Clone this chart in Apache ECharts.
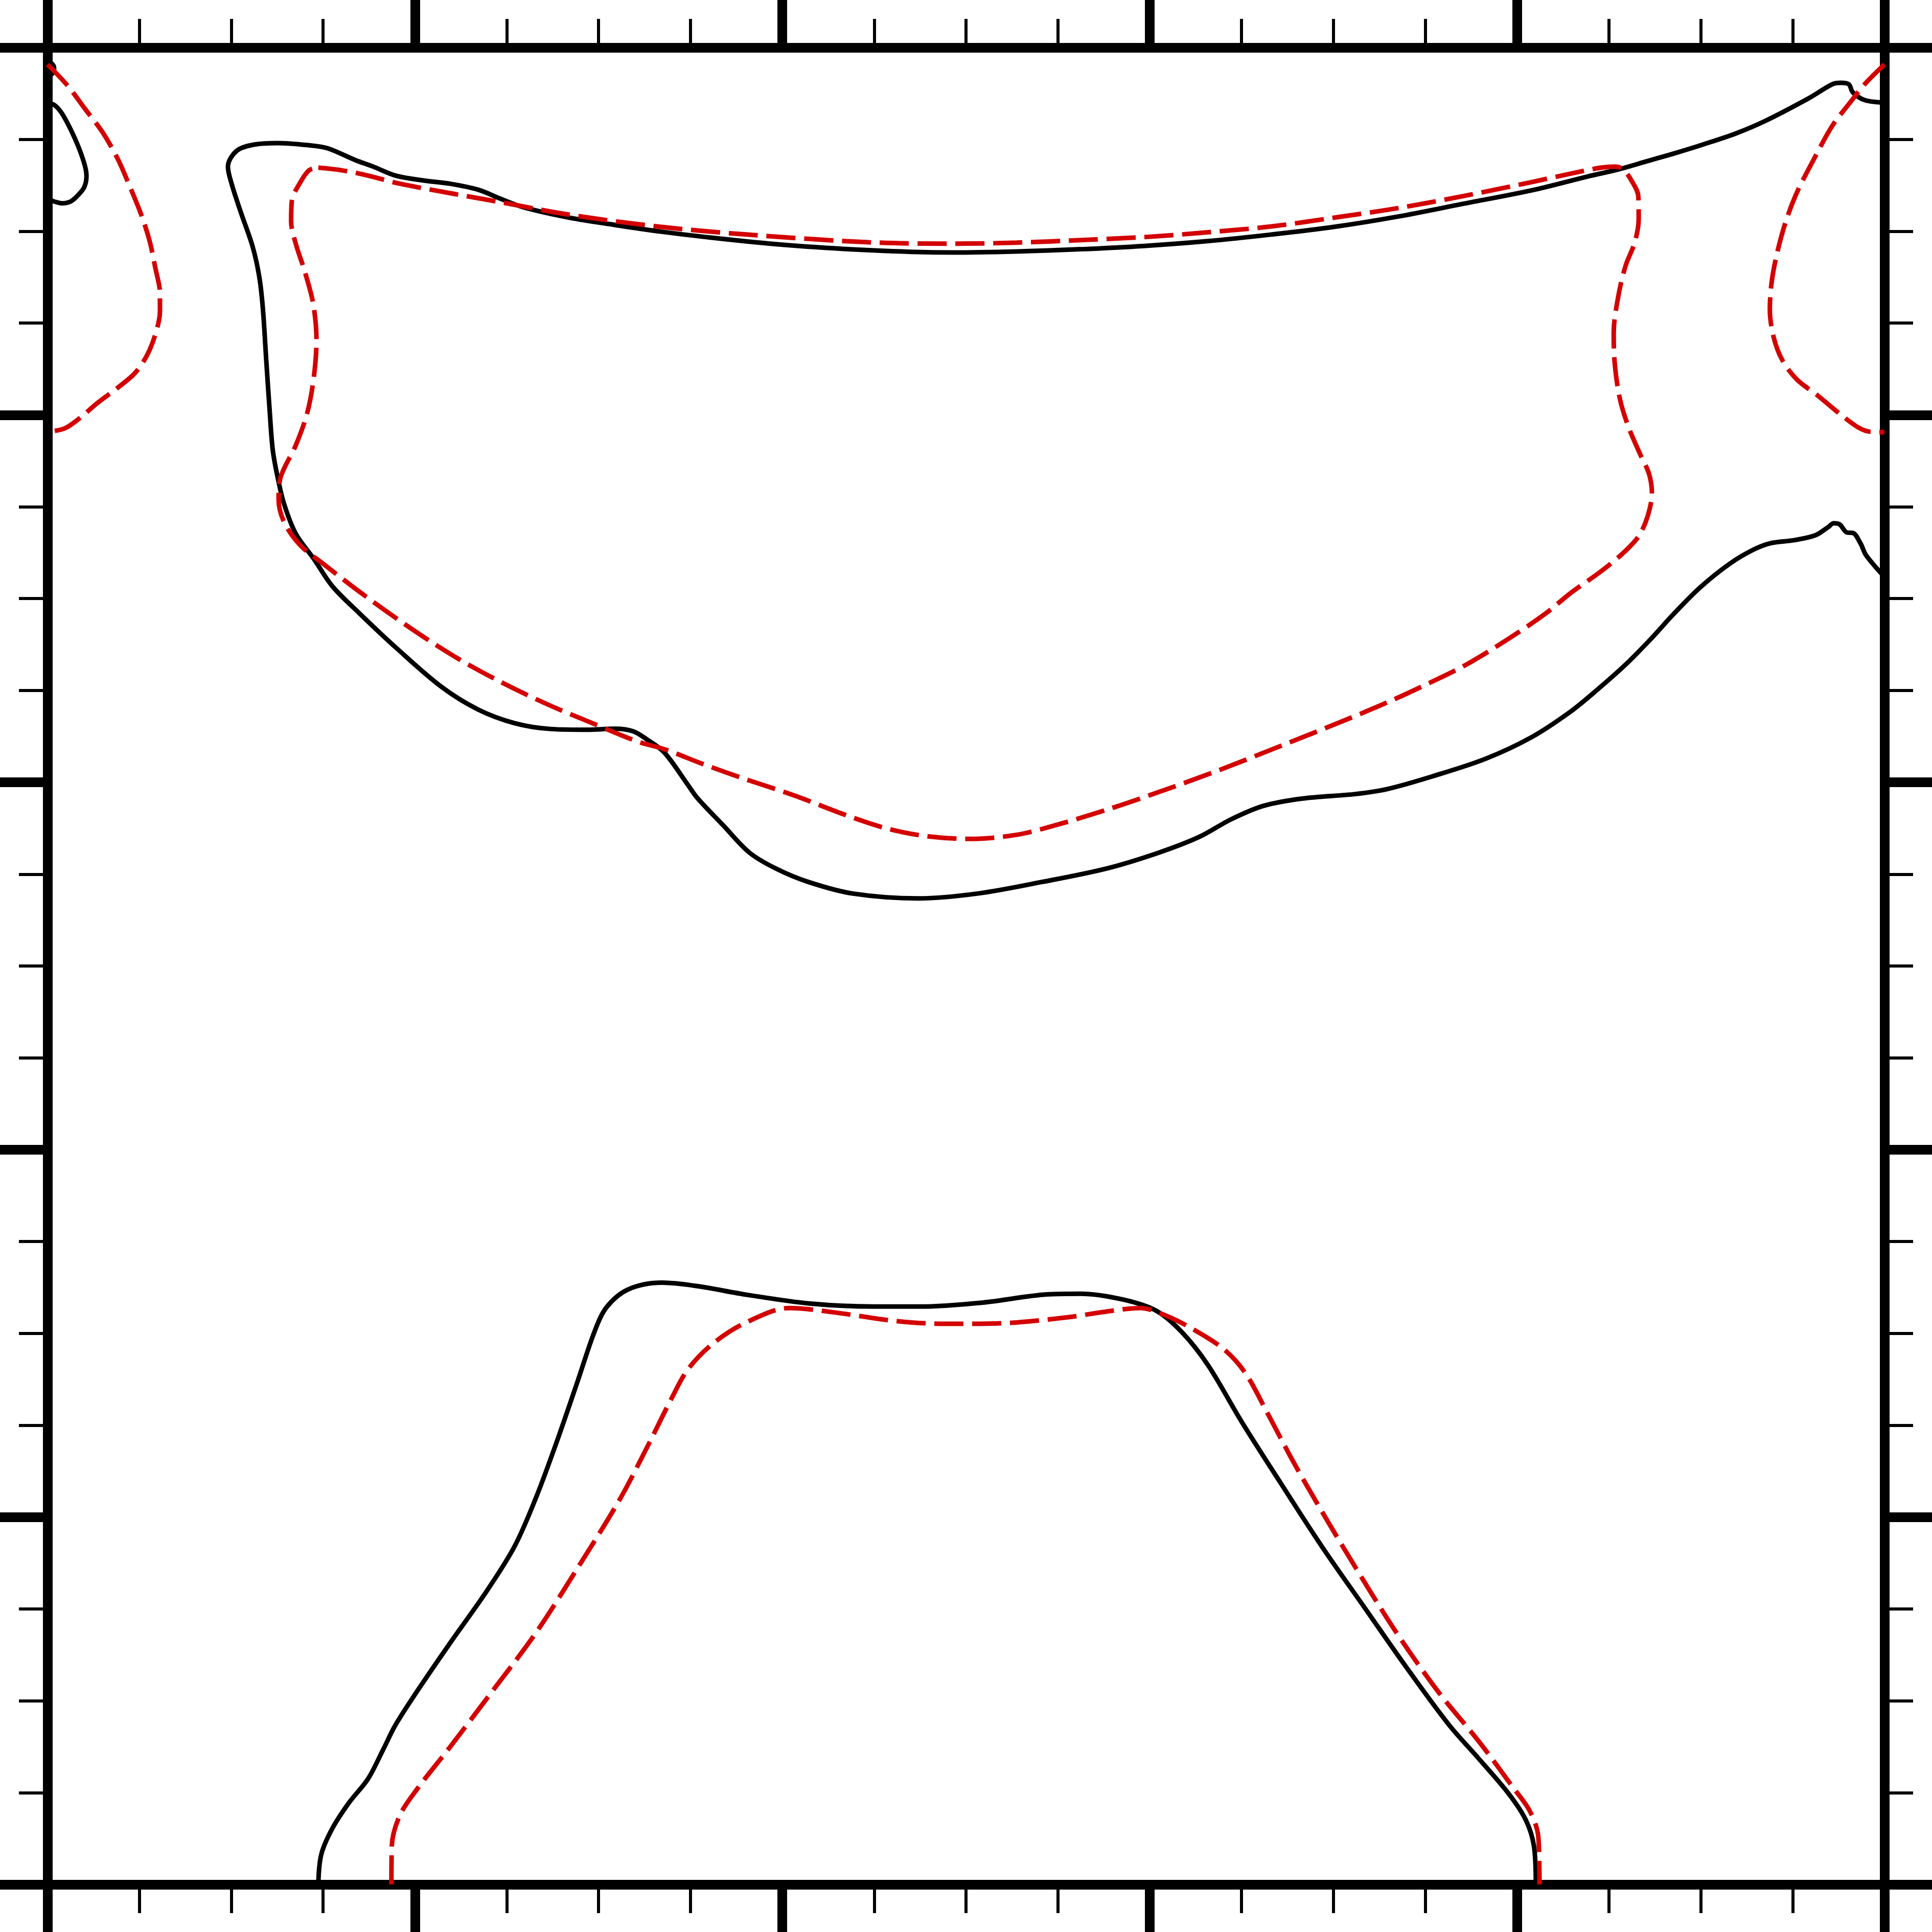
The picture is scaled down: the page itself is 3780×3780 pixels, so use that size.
<!DOCTYPE html>
<html>
<head>
<meta charset="utf-8">
<script src="https://cdn.jsdelivr.net/npm/echarts@6/dist/echarts.min.js"></script>
<style>
  html, body { margin: 0; padding: 0; background: #fff; }
  #main { width: 3780px; height: 3780px; }
</style>
</head>
<body>
<div id="main"></div>
<script>
// axis range, 5 major steps, 4 minor parts each
const AXIS_MIN = 0;
const AXIS_MAX = 5;
const AXIS_STEP = 1;

// solid black contour, enters at the right edge (top) and leaves at the right edge (middle)
const blackUpper = [
  [5.0, 4.850], [4.946, 4.857], [4.914, 4.878], [4.903, 4.900], [4.882, 4.904],
  [4.858, 4.900], [4.794, 4.862], [4.675, 4.800], [4.595, 4.766], [4.506, 4.736],
  [4.435, 4.714], [4.355, 4.691], [4.275, 4.668], [4.196, 4.650], [4.043, 4.612],
  [3.850, 4.574], [3.676, 4.540], [3.503, 4.512], [3.331, 4.491], [3.157, 4.473],
  [2.985, 4.460], [2.812, 4.451], [2.638, 4.445], [2.466, 4.442], [2.350, 4.444],
  [2.166, 4.452], [1.979, 4.465], [1.793, 4.484], [1.669, 4.499], [1.545, 4.517],
  [1.420, 4.537], [1.296, 4.565], [1.234, 4.588], [1.172, 4.613], [1.097, 4.629],
  [1.024, 4.638], [0.949, 4.651], [0.886, 4.676], [0.837, 4.694], [0.762, 4.726],
  [0.712, 4.734], [0.626, 4.740], [0.563, 4.736], [0.515, 4.719], [0.491, 4.676],
  [0.502, 4.626], [0.526, 4.552], [0.558, 4.459], [0.576, 4.378], [0.586, 4.291],
  [0.595, 4.154], [0.605, 4.006], [0.613, 3.905], [0.626, 3.832], [0.644, 3.757],
  [0.676, 3.676], [0.725, 3.608], [0.775, 3.534], [0.850, 3.459], [0.949, 3.366],
  [1.072, 3.260], [1.172, 3.198], [1.271, 3.161], [1.371, 3.145], [1.470, 3.143],
  [1.545, 3.146], [1.594, 3.139], [1.631, 3.117], [1.679, 3.081], [1.743, 2.993],
  [1.768, 2.958], [1.839, 2.883], [1.910, 2.809], [1.981, 2.766], [2.070, 2.729],
  [2.193, 2.697], [2.370, 2.684], [2.530, 2.697], [2.708, 2.729], [2.885, 2.766],
  [3.026, 2.809], [3.134, 2.851], [3.223, 2.900], [3.310, 2.936], [3.417, 2.956],
  [3.559, 2.968], [3.648, 2.982], [3.772, 3.017], [3.914, 3.064], [4.038, 3.122],
  [4.145, 3.192], [4.216, 3.250], [4.295, 3.320], [4.363, 3.389], [4.427, 3.459],
  [4.499, 3.531], [4.579, 3.595], [4.643, 3.633], [4.691, 3.651], [4.754, 3.659],
  [4.811, 3.672], [4.846, 3.694], [4.862, 3.705], [4.878, 3.702], [4.898, 3.680],
  [4.914, 3.679], [4.935, 3.650], [4.950, 3.618], [5.0, 3.559]
];

// small black loop on the left edge
const blackLoop = [
  [0, 4.848], [0.018, 4.844], [0.039, 4.821], [0.063, 4.777], [0.086, 4.725],
  [0.102, 4.677], [0.106, 4.650], [0.100, 4.620], [0.082, 4.597], [0.063, 4.581],
  [0.039, 4.576], [0.018, 4.581], [0, 4.588]
];

// tiny black bump in the top left corner
const blackCorner = [
  [0, 4.964], [0.014, 4.954], [0.018, 4.943], [0.014, 4.930], [0, 4.920]
];

// black contour at the bottom
const blackLower = [
  [0.737, 0], [0.745, 0.081], [0.775, 0.152], [0.821, 0.223], [0.872, 0.287],
  [0.912, 0.364], [0.947, 0.434], [1.004, 0.523], [1.097, 0.659], [1.189, 0.789],
  [1.270, 0.918], [1.328, 1.049], [1.385, 1.202], [1.442, 1.367], [1.490, 1.508],
  [1.523, 1.573], [1.581, 1.620], [1.673, 1.638], [1.766, 1.629], [1.904, 1.605],
  [2.077, 1.581], [2.250, 1.573], [2.374, 1.573], [2.547, 1.584], [2.720, 1.606],
  [2.812, 1.608], [2.928, 1.592], [3.019, 1.561], [3.089, 1.502], [3.159, 1.413],
  [3.250, 1.260], [3.355, 1.095], [3.470, 0.918], [3.586, 0.752], [3.701, 0.588],
  [3.815, 0.434], [3.897, 0.341], [3.978, 0.246], [4.024, 0.175], [4.046, 0.104],
  [4.051, 0]
];

// dashed red contour, left edge
const redLeft = [
  [0, 4.954], [0.054, 4.897], [0.102, 4.833], [0.150, 4.769], [0.191, 4.697],
  [0.223, 4.624], [0.255, 4.545], [0.278, 4.473], [0.293, 4.402], [0.306, 4.330],
  [0.306, 4.282], [0.293, 4.218], [0.270, 4.161], [0.238, 4.114], [0.191, 4.074],
  [0.134, 4.031], [0.086, 3.990], [0.046, 3.963], [0, 3.954]
];

// dashed red contour, right edge
const redRight = [
  [5.0, 4.954], [4.946, 4.900], [4.907, 4.851], [4.858, 4.787], [4.811, 4.702],
  [4.762, 4.606], [4.730, 4.522], [4.707, 4.437], [4.693, 4.362], [4.688, 4.288],
  [4.698, 4.213], [4.722, 4.149], [4.762, 4.096], [4.818, 4.053], [4.882, 4.000],
  [4.930, 3.965], [4.962, 3.954], [5.0, 3.953]
];

// dashed red closed contour, upper middle
const redUpper = [
  [0.737, 4.673], [0.800, 4.666], [0.861, 4.654], [0.961, 4.629], [1.110, 4.601],
  [1.234, 4.579], [1.420, 4.545], [1.669, 4.512], [1.917, 4.490], [2.235, 4.470],
  [2.466, 4.466], [2.638, 4.469], [2.812, 4.476], [2.985, 4.484], [3.157, 4.497],
  [3.331, 4.513], [3.503, 4.537], [3.676, 4.563], [3.850, 4.595], [4.036, 4.633],
  [4.156, 4.659], [4.228, 4.673], [4.267, 4.676], [4.288, 4.669], [4.312, 4.637],
  [4.330, 4.595], [4.331, 4.533], [4.320, 4.469], [4.295, 4.405], [4.275, 4.320],
  [4.263, 4.224], [4.266, 4.138], [4.280, 4.043], [4.303, 3.968], [4.335, 3.893],
  [4.359, 3.840], [4.367, 3.787], [4.355, 3.723], [4.331, 3.670], [4.292, 3.627],
  [4.228, 3.574], [4.147, 3.516], [4.077, 3.459], [3.974, 3.389], [3.861, 3.320],
  [3.754, 3.267], [3.648, 3.218], [3.524, 3.166], [3.364, 3.102], [3.186, 3.032],
  [3.026, 2.974], [2.885, 2.926], [2.743, 2.883], [2.637, 2.857], [2.512, 2.846],
  [2.388, 2.854], [2.282, 2.875], [2.175, 2.910], [2.033, 2.964], [1.892, 3.011],
  [1.786, 3.049], [1.679, 3.090], [1.606, 3.111], [1.483, 3.161], [1.359, 3.213],
  [1.234, 3.273], [1.110, 3.341], [0.986, 3.421], [0.862, 3.509], [0.750, 3.595],
  [0.688, 3.645], [0.644, 3.708], [0.629, 3.769], [0.633, 3.825], [0.676, 3.918],
  [0.707, 4.006], [0.725, 4.104], [0.732, 4.204], [0.723, 4.303], [0.700, 4.391],
  [0.676, 4.465], [0.663, 4.527], [0.665, 4.583], [0.688, 4.633], [0.712, 4.666],
  [0.737, 4.673]
];

// dashed red contour at the bottom
const redLower = [
  [0.936, 0], [0.937, 0.104], [0.958, 0.186], [1.004, 0.257], [1.097, 0.376],
  [1.213, 0.529], [1.328, 0.683], [1.442, 0.860], [1.558, 1.049], [1.638, 1.202],
  [1.697, 1.320], [1.743, 1.402], [1.812, 1.473], [1.904, 1.531], [2.019, 1.569],
  [2.135, 1.558], [2.307, 1.534], [2.444, 1.526], [2.605, 1.528], [2.777, 1.544],
  [2.893, 1.561], [2.974, 1.569], [3.043, 1.549], [3.124, 1.508], [3.204, 1.455],
  [3.261, 1.391], [3.320, 1.284], [3.389, 1.154], [3.470, 1.013], [3.562, 0.860],
  [3.666, 0.694], [3.782, 0.529], [3.897, 0.388], [3.989, 0.264], [4.035, 0.199],
  [4.058, 0.128], [4.061, 0]
];

const FRAME = '#000';
const RED = '#d40000';

// same frame style on all four sides
const frameAxis = (position) => ({
  type: 'value',
  position: position,
  min: AXIS_MIN,
  max: AXIS_MAX,
  interval: AXIS_STEP,
  axisLine: {show: true, onZero: false, lineStyle: {color: FRAME, width: 19}},
  axisTick: {show: true, inside: false, length: 100, lineStyle: {color: FRAME, width: 19}},
  minorTick: {show: true, splitNumber: 4, length: 56, lineStyle: {color: FRAME, width: 6}},
  axisLabel: {show: false},
  splitLine: {show: false},
  minorSplitLine: {show: false},
});

// ~catmull-rom smoothing
const SMOOTH = 0.33;

const solid = (data) => ({
  type: 'line',
  data: data,
  smooth: SMOOTH,
  showSymbol: false,
  silent: true,
  lineStyle: {color: FRAME, width: 9, type: 'solid'},
});

const dashed = (data) => ({
  type: 'line',
  data: data,
  smooth: SMOOTH,
  showSymbol: false,
  silent: true,
  lineStyle: {color: RED, width: 9, type: [57, 17]},
});

const option = {
  animation: false,
  backgroundColor: '#fff',
  grid: {left: 93, right: 93, top: 93, bottom: 93, containLabel: false},
  xAxis: [frameAxis('bottom'), frameAxis('top')],
  yAxis: [frameAxis('left'), frameAxis('right')],
  series: [
    solid(blackUpper),
    solid(blackLoop),
    solid(blackCorner),
    solid(blackLower),
    dashed(redLeft),
    dashed(redRight),
    dashed(redUpper),
    dashed(redLower),
  ],
};

const chart = echarts.init(document.getElementById('main'), null, {renderer: 'canvas'});
chart.setOption(option);
</script>
</body>
</html>
